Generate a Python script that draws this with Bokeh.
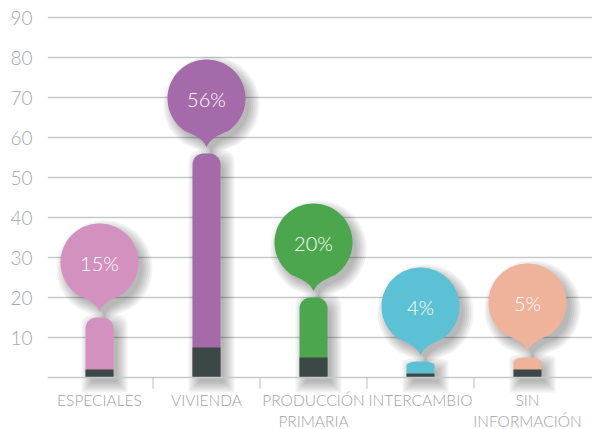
import numpy as np
from bokeh.plotting import figure
from bokeh.models import Range1d, FixedTicker, Span
from bokeh.core.properties import value
from bokeh.embed import file_html
from bokeh.resources import INLINE

# ---------------- data ----------------
categories = ["ESPECIALES", "VIVIENDA", "PRODUCCIÓN\nPRIMARIA", "INTERCAMBIO", "SIN\nINFORMACIÓN"]
percent = [15, 56, 20, 4, 5]
base_part = [2, 7.5, 5, 1, 2]          # dark lower segment of each bar
labels = ["15%", "56%", "20%", "4%", "5%"]
colors = ["#d391bf", "#a46aa9", "#4ba64d", "#5dc1d6", "#efb29a"]
y_ticks = [10, 20, 30, 40, 50, 60, 70, 80, 90]

# ---------------- layout ----------------
W, H = 592, 429
BL, BT = 47, 15
FW, FH = W - BL, H - BT
X0 = -0.486
X1 = X0 + FW / 107.0
Y1 = 90.5
Y0 = Y1 - FH / 4.0
sx = (X1 - X0) / FW      # data units per pixel (x)
sy = (Y1 - Y0) / FH      # data units per pixel (y)

FONT = "Lato Light"
GRID = "#c5c9ca"
DARK = "#3c4747"
BAR_HW = 14              # half bar width, px
BUBBLE_R = 39
BUBBLE_TAIL = 10
BUBBLE_GAP = 55          # px from bar top to bubble centre

p = figure(width=W, height=H, output_backend="svg", toolbar_location=None,
           x_range=Range1d(X0, X1), y_range=Range1d(Y0, Y1),
           min_border_left=BL, min_border_top=BT, min_border_right=0, min_border_bottom=0)
p.outline_line_color = None
p.background_fill_color = "white"
p.border_fill_color = "white"
p.xaxis.visible = False
p.xgrid.visible = False
p.yaxis.ticker = FixedTicker(ticks=y_ticks)
p.yaxis.axis_line_color = None
p.yaxis.major_tick_line_color = None
p.yaxis.minor_tick_line_color = None
p.yaxis.major_label_standoff = 9
p.yaxis.major_label_text_font = FONT
p.yaxis.major_label_text_font_size = "19px"
p.yaxis.major_label_text_color = "#a4a9ac"
p.ygrid.grid_line_color = GRID
p.ygrid.grid_line_width = 1.6

p.add_layout(Span(location=0, dimension="width", line_color=GRID, line_width=1.6))


def bar_px(h, grow):
    hw = BAR_HW + grow
    top = h + grow
    bot = -grow
    rx = min(11.0, hw)
    ry = min(11.0, max(h * 0.25, 1.0))
    xs, ys = [hw, hw], [bot, top - ry]
    t = np.linspace(0, np.pi / 2, 12)
    cx, cy = hw - rx, top - ry
    xs += list(cx + rx * np.cos(t)); ys += list(cy + ry * np.sin(t))
    cx = -hw + rx
    xs += list(cx + rx * np.cos(t + np.pi / 2)); ys += list(cy + ry * np.sin(t + np.pi / 2))
    xs += [-hw]; ys += [bot]
    return np.array(xs), np.array(ys)


def bezier(p0, c, p1, n=14):
    t = np.linspace(0, 1, n)[:, None]
    pts = (1 - t) ** 2 * np.array(p0) + 2 * (1 - t) * t * np.array(c) + t ** 2 * np.array(p1)
    return pts[:, 0], pts[:, 1]


def bubble_px(grow):
    r = BUBBLE_R + grow
    half = np.deg2rad(33)
    a0 = -np.pi / 2 + half
    a1 = 1.5 * np.pi - half
    ang = np.linspace(a0, a1, 90)
    xs = list(r * np.cos(ang)); ys = list(r * np.sin(ang))
    tip = (0.0, -(BUBBLE_R + BUBBLE_TAIL) - grow)
    bx, by = bezier((xs[-1], ys[-1]), (-2.5, -r - 1), tip)
    xs += list(bx); ys += list(by)
    bx, by = bezier(tip, (2.5, -r - 1), (xs[0], ys[0]))
    xs += list(bx); ys += list(by)
    return np.array(xs), np.array(ys)


# ---------------- shadows ----------------
SH_DX, SH_DY = 5, -6
for grow in [-1, 1, 3, 5, 7, 9]:
    xs_all, ys_all = [], []
    for i, v in enumerate(percent):
        bx, by = bar_px(v / sy, grow)
        xs_all.append(list(i + (bx + SH_DX) * sx)); ys_all.append(list((by + SH_DY) * sy))
        qx, qy = bubble_px(grow)
        cy = v + BUBBLE_GAP * sy
        xs_all.append(list(i + (qx + SH_DX) * sx)); ys_all.append(list(cy + (qy + SH_DY) * sy))
    p.patches(xs_all, ys_all, fill_color="black", fill_alpha=0.05, line_color=None)

# ---------------- bars ----------------
bxs, bys = [], []
for i, v in enumerate(percent):
    bx, by = bar_px(v / sy, 0)
    bxs.append(list(i + bx * sx)); bys.append(list(by * sy))
p.patches(bxs, bys, fill_color=colors, line_color=None)

idx = list(range(len(categories)))
p.vbar(x=idx, top=base_part, bottom=0, width=2 * BAR_HW * sx, fill_color=DARK, line_color=None)

# ---------------- bubbles ----------------
qxs, qys, cys = [], [], []
for i, v in enumerate(percent):
    qx, qy = bubble_px(0)
    cy = v + BUBBLE_GAP * sy
    cys.append(cy)
    qxs.append(list(i + qx * sx)); qys.append(list(cy + qy * sy))
p.patches(qxs, qys, fill_color=colors, line_color=None)
p.text(x=idx, y=cys, text=labels, text_color="white", text_font=value(FONT),
       text_font_size="20px", text_align="center", text_baseline="middle")

# ---------------- category axis (drawn in frame) ----------------
p.segment(x0=[i + 0.5 for i in idx[:-1]], y0=0, x1=[i + 0.5 for i in idx[:-1]], y1=-11 * sy,
          line_color=GRID, line_width=1.2)
p.text(x=idx, y=-13 * sy, text=categories, text_color="#9ea3a6", text_font=value(FONT),
       text_font_size="15.5px", text_align="center", text_baseline="top", text_line_height=1.2)

open("out.html", "w").write(file_html(p, INLINE))
